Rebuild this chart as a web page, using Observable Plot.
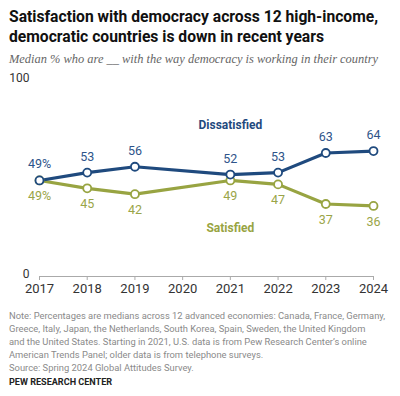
<!DOCTYPE html>
<html>
<head>
<meta charset="utf-8">
<script src="https://cdn.jsdelivr.net/npm/d3@7"></script>
<script src="https://cdn.jsdelivr.net/npm/@observablehq/plot@0.6"></script>
<style>
  html, body { margin: 0; padding: 0; background: #fff; }
  body { width: 400px; height: 396px; position: relative; overflow: hidden; font-family: Roboto, "Liberation Sans", sans-serif; }
  #title { position: absolute; left: 9px; top: 7px; font-weight: 700; font-size: 16px; line-height: 19.5px; color: #111; white-space: nowrap; }
  #subtitle { position: absolute; left: 9px; top: 52px; font-family: "Liberation Serif", serif; font-style: italic; font-size: 12px; line-height: 14px; color: #666; white-space: nowrap; }
  #chart { position: absolute; left: 0; top: 70px; }
  #note { position: absolute; left: 9px; top: 308.5px; font-size: 9.6px; line-height: 13px; color: #8a8a8a; white-space: nowrap; }
  #brand { position: absolute; left: 9px; top: 377px; font-size: 9px; font-weight: 700; color: #222; white-space: nowrap; }
</style>
</head>
<body>
<div id="title">Satisfaction with democracy across 12 high-income,<br>democratic countries is down in recent years</div>
<div id="subtitle">Median % who are __ with the way democracy is working in their country</div>
<div id="chart"></div>
<div id="note">Note: Percentages are medians across 12 advanced economies: Canada, France, Germany,<br>Greece, Italy, Japan, the Netherlands, South Korea, Spain, Sweden, the United Kingdom<br>and the United States. Starting in 2021, U.S. data is from Pew Research Center’s online<br>American Trends Panel; older data is from telephone surveys.<br>Source: Spring 2024 Global Attitudes Survey.</div>
<div id="brand">PEW RESEARCH CENTER</div>
<script>
const years = [2017, 2018, 2019, 2021, 2022, 2023, 2024];
const dissatisfied = [49, 53, 56, 52, 53, 63, 64];
const satisfied = [49, 45, 42, 49, 47, 37, 36];
const xTicks = [2017, 2018, 2019, 2020, 2021, 2022, 2023, 2024];
const yTicks = [0, 100];
const seriesNames = ["Dissatisfied", "Satisfied"];
const labelYear = 2021;

const navy = "#1f4a7e";
const olive = "#98a442";
const navyText = "#2e548a";
const oliveText = "#9aa548";

const dData = years.map((y, i) => ({year: y, value: dissatisfied[i], series: seriesNames[0]}));
const sData = years.map((y, i) => ({year: y, value: satisfied[i], series: seriesNames[1]}));
const fmt = d => d.year === years[0] ? `${d.value}%` : `${d.value}`;

// Fit text blocks to the reference widths
function fit(id, target) {
  const el = document.getElementById(id);
  for (let k = 0; k < 4; k++) {
    const w = el.getBoundingClientRect().width;
    const fs = parseFloat(getComputedStyle(el).fontSize);
    el.style.fontSize = (fs * target / w).toFixed(2) + "px";
  }
}
fit("title", 369);
fit("subtitle", 369);
fit("note", 376);
fit("brand", 103);

const chart = Plot.plot({
  width: 400,
  height: 230,
  marginLeft: 39,
  marginRight: 27,
  marginTop: 10,
  marginBottom: 24,
  style: {fontFamily: "Roboto, 'Liberation Sans', sans-serif", overflow: "visible"},
  x: {domain: [2017, 2024], ticks: xTicks, tickFormat: d => String(d), label: null},
  y: {domain: [0, 100], ticks: yTicks, label: null},
  marks: [
    Plot.ruleY([0], {stroke: "#aaa", strokeWidth: 1}),
    Plot.axisX({ticks: xTicks, tickFormat: d => String(d), tickSize: 4, tickPadding: 3, stroke: "#aaa", fill: "#333", fontSize: 13, label: null}),
    Plot.axisY({ticks: yTicks, tickSize: 0, tickPadding: 10, dy: -2, fill: "#333", fontSize: 12, label: null}),
    Plot.line(sData, {x: "year", y: "value", stroke: olive, strokeWidth: 3.2}),
    Plot.line(dData, {x: "year", y: "value", stroke: navy, strokeWidth: 3.2}),
    Plot.dot(sData, {x: "year", y: "value", r: 4, fill: "white", stroke: olive, strokeWidth: 1.8}),
    Plot.dot(dData, {x: "year", y: "value", r: 4, fill: "white", stroke: navy, strokeWidth: 1.8}),
    Plot.text(dData, {x: "year", y: "value", text: fmt, dy: -16, fill: navyText, fontSize: 12.5}),
    Plot.text(sData, {x: "year", y: "value", text: fmt, dy: 16, fill: oliveText, fontSize: 12.5}),
    Plot.text(dData.filter(d => d.year === labelYear), {x: "year", y: "value", text: "series", dy: -49, fill: navy, fontSize: 12, fontWeight: "bold"}),
    Plot.text(sData.filter(d => d.year === labelYear), {x: "year", y: "value", text: "series", dy: 48, fill: olive, fontSize: 12, fontWeight: "bold"})
  ]
});
document.getElementById("chart").append(chart);
</script>
</body>
</html>
